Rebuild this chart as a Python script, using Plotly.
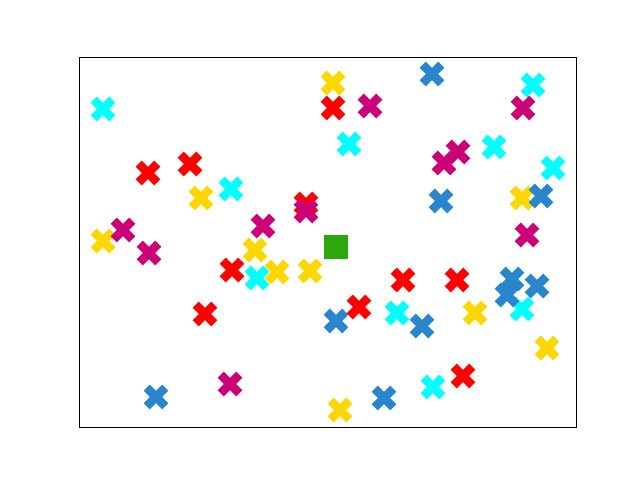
import plotly.graph_objects as go

# Data in pixel-derived units (x: 0..496, y: 0..369)
cyan_x = [23, 269, 151, 414, 453, 473, 177, 317, 442, 353]
cyan_y = [318, 283, 238, 280, 342, 259, 149, 114, 118, 40]
red_x = [68, 110, 253, 226, 152, 125, 279, 323, 377, 383]
red_y = [254, 263, 319, 223, 157, 113, 120, 147, 147, 51]
yellow_x = [253, 121, 23, 175, 197, 230, 395, 442, 467, 260]
yellow_y = [344, 229, 186, 177, 155, 156, 114, 229, 79, 17]
magenta_x = [290, 443, 364, 378, 43, 69, 183, 226, 447, 150]
magenta_y = [321, 319, 264, 275, 197, 174, 201, 216, 192, 43]
blue_x = [352, 361, 461, 432, 427, 457, 256, 342, 304, 76]
blue_y = [353, 226, 231, 148, 132, 141, 106, 101, 29, 30]
green_x = [256]
green_y = [180]

series = [
    (cyan_x, cyan_y, "#00FFFF"),
    (red_x, red_y, "#FF0000"),
    (yellow_x, yellow_y, "#FFD700"),
    (magenta_x, magenta_y, "#CC0077"),
    (blue_x, blue_y, "#2986CC"),
]

fig = go.Figure()
for xs, ys, c in series:
    fig.add_trace(go.Scatter(x=xs, y=ys, mode="markers",
                             marker=dict(symbol="x", size=22, color=c, line=dict(width=0))))
fig.add_trace(go.Scatter(x=green_x, y=green_y, mode="markers",
                         marker=dict(symbol="square", size=24, color="#2CA80C", line=dict(width=0))))

fig.update_layout(
    width=640, height=480,
    margin=dict(l=80, r=64, t=58, b=53),
    showlegend=False,
    plot_bgcolor="white", paper_bgcolor="white",
)
fig.update_xaxes(range=[0, 496], showgrid=False, zeroline=False, showticklabels=False,
                 showline=True, linecolor="black", linewidth=1, mirror=True, ticks="")
fig.update_yaxes(range=[0, 369], showgrid=False, zeroline=False, showticklabels=False,
                 showline=True, linecolor="black", linewidth=1, mirror=True, ticks="")
fig.write_html("out.html")
